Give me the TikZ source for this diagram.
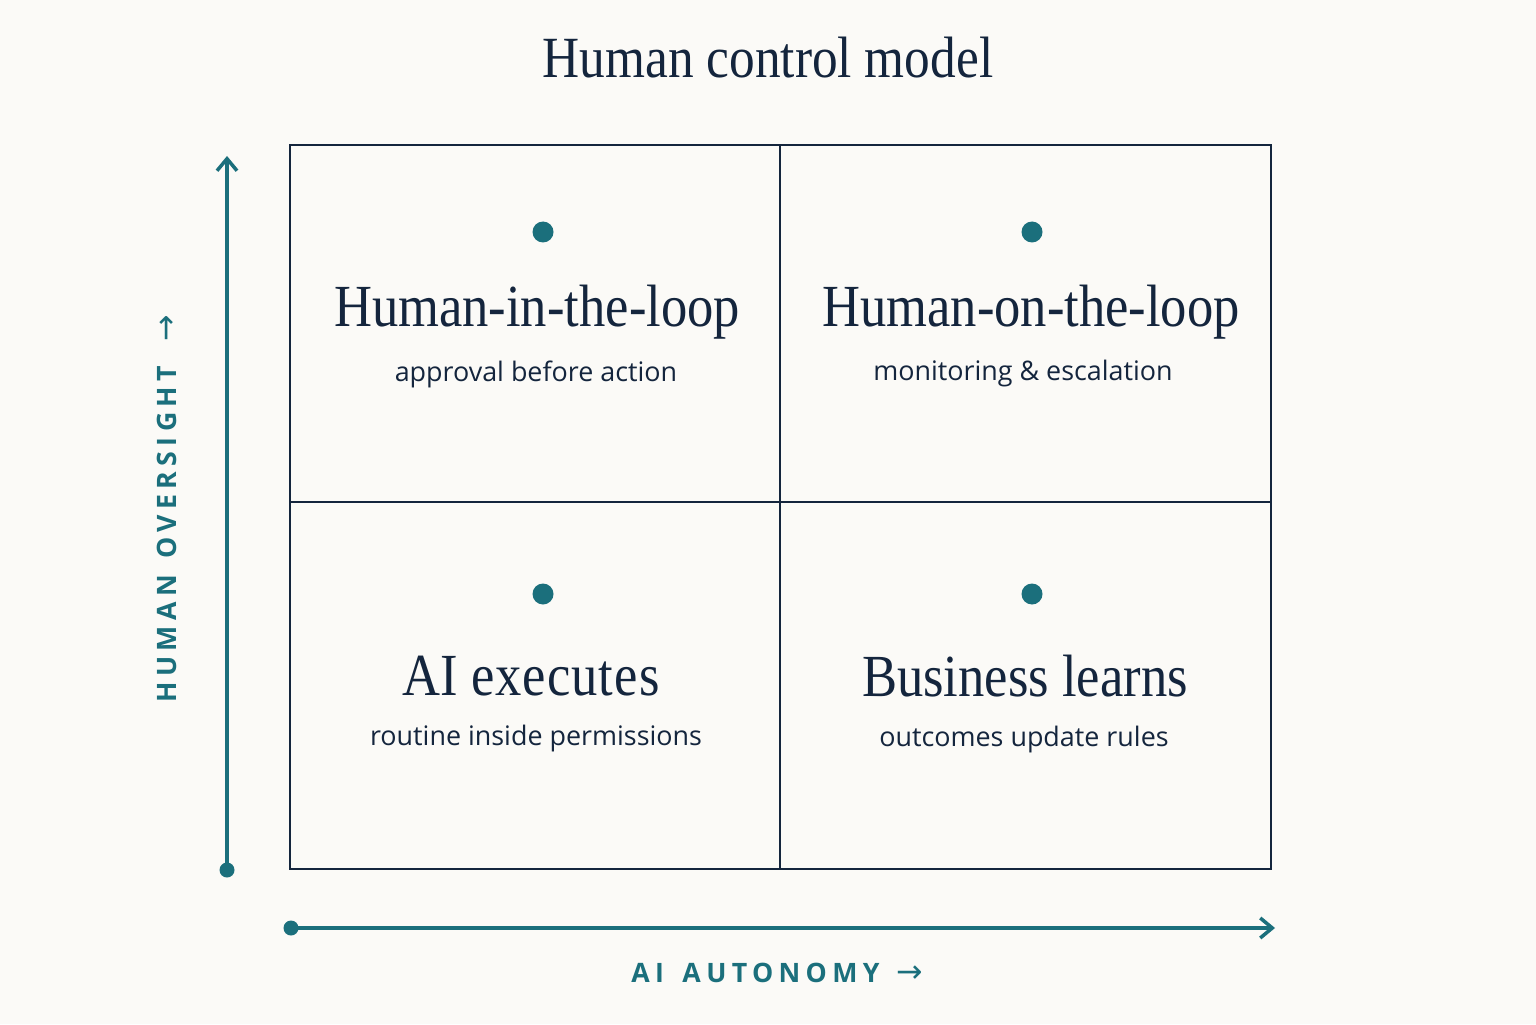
\documentclass[tikz,border=0pt]{standalone}
\usepackage{fontspec}
\setmainfont{Liberation Serif}
\newfontfamily\quadfont[FakeStretch=0.88]{Liberation Serif}
\newfontfamily\subfont{Open Sans}
\newfontfamily\axisfont[LetterSpace=20]{Open Sans}
\newfontfamily\arrowfont{DejaVu Sans}
\usepackage{tikz}
\usetikzlibrary{arrows.meta}
\definecolor{inkblue}{HTML}{14253D}
\definecolor{tealax}{HTML}{1B6F7C}
\definecolor{paper}{HTML}{FBFAF7}

\begin{document}
\begin{tikzpicture}[every node/.style={inner sep=1pt},
    quadtitle/.style={text=inkblue, font=\quadfont\fontsize{17}{20}\selectfont},
    quadsub/.style={text=inkblue, font=\subfont\fontsize{7.65}{9}\selectfont},
    axislabel/.style={text=tealax, font=\axisfont\bfseries\fontsize{7.6}{9}\selectfont},
    axisline/.style={draw=tealax, line width=1pt, -{Straight Barb[length=1.2mm,width=2.0mm,line width=1pt]}}]
  \fill[paper] (0,0) rectangle (15.36,10.24);
  \useasboundingbox (0,0) rectangle (15.36,10.24);
  % grid
  \coordinate (gSW) at (2.90,1.55);
  \coordinate (gNE) at (12.71,8.79);
  \draw[inkblue, line width=0.8pt] (gSW) rectangle (gNE);
  \draw[inkblue, line width=0.8pt] (7.80,1.55) -- (7.80,8.79);
  \draw[inkblue, line width=0.8pt] (2.90,5.22) -- (12.71,5.22);
  % title
  \node[text=inkblue, font=\quadfont\fontsize{16.6}{20}\selectfont] (title) at (7.68,9.66) {Human control model};
  % quadrants
  \fill[tealax] (5.43,7.92) circle (0.105);
  \fill[tealax] (10.32,7.92) circle (0.105);
  \fill[tealax] (5.43,4.30) circle (0.105);
  \fill[tealax] (10.32,4.30) circle (0.105);
  \node[quadtitle] (hitl) at (5.37,7.12) {Human-in-the-loop};
  \node[quadsub] (hitlS) at (5.36,6.50) {approval before action};
  \node[quadtitle] (hotl) at (10.31,7.12) {Human-on-the-loop};
  \node[quadsub] (hotlS) at (10.23,6.50) {monitoring \& escalation};
  \node[quadtitle] (aiex) at (5.31,3.48) {AI e\kern0.3pt x\kern0.3pt e\kern0.3pt c\kern0.3pt u\kern0.3pt t\kern0.3pt e\kern0.3pt s};
  \node[quadsub] (aiexS) at (5.36,2.85) {routine inside permissions};
  \node[quadtitle] (biz) at (10.25,3.48) {Business learns};
  \node[quadsub] (bizS) at (10.24,2.84) {outcomes update rules};
  % axes
  \coordinate (vStart) at (2.27,1.54);
  \coordinate (vEnd) at (2.27,8.68);
  \coordinate (hStart) at (2.91,0.96);
  \coordinate (hEnd) at (12.75,0.96);
  \draw[axisline] (vStart) -- (vEnd);
  \draw[axisline] (hStart) -- (hEnd);
  \fill[tealax] (vStart) circle (0.075);
  \fill[tealax] (hStart) circle (0.075);
  \node[axislabel, rotate=90] (yLabel) at (1.67,5.15) {HUMAN\, OVERSIGHT\;\, {\arrowfont\mdseries\fontsize{9}{9}\selectfont →}};
  \node[axislabel] (xLabel) at (7.77,0.51) {AI\enspace\kern1.5pt AUTONOMY\, {\arrowfont\mdseries\fontsize{9}{9}\selectfont →}};
\end{tikzpicture}
\end{document}
